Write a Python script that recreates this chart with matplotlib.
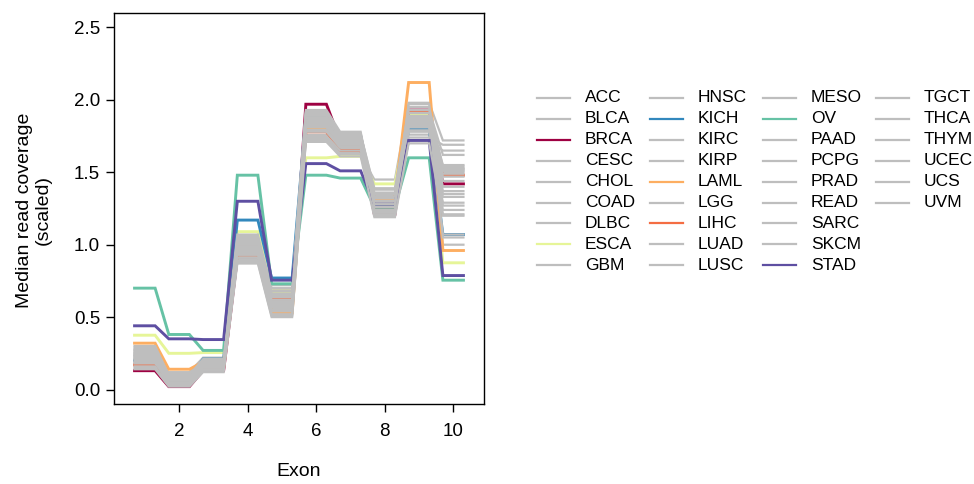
import matplotlib
matplotlib.use("Agg")
import matplotlib.pyplot as plt
from matplotlib.lines import Line2D
import numpy as np

plt.rcParams['font.family'] = ['Liberation Sans', 'DejaVu Sans']

exons = [1, 2, 3, 4, 5, 6, 7, 8, 9, 10]

cancers = ["ACC", "BLCA", "BRCA", "CESC", "CHOL", "COAD", "DLBC", "ESCA", "GBM",
           "HNSC", "KICH", "KIRC", "KIRP", "LAML", "LGG", "LIHC", "LUAD", "LUSC",
           "MESO", "OV", "PAAD", "PCPG", "PRAD", "READ", "SARC", "SKCM", "STAD",
           "TGCT", "THCA", "THYM", "UCEC", "UCS", "UVM"]

ACC  = [0.22, 0.05, 0.16, 0.98, 0.62, 1.84, 1.70, 1.28, 1.83, 1.37]
BLCA = [0.25, 0.08, 0.18, 1.02, 0.65, 1.86, 1.73, 1.31, 1.86, 1.50]
BRCA = [0.13, 0.02, 0.13, 0.91, 0.56, 1.97, 1.72, 1.21, 1.93, 1.42]
CESC = [0.27, 0.09, 0.19, 1.04, 0.67, 1.88, 1.74, 1.34, 1.88, 1.53]
CHOL = [0.18, 0.04, 0.15, 0.95, 0.58, 1.80, 1.69, 1.25, 1.80, 1.29]
COAD = [0.29, 0.11, 0.20, 1.06, 0.69, 1.90, 1.76, 1.38, 1.90, 1.55]
DLBC = [0.15, 0.12, 0.22, 0.88, 0.51, 1.72, 1.62, 1.45, 1.98, 1.72]
ESCA = [0.375, 0.25, 0.255, 1.09, 0.68, 1.60, 1.61, 1.42, 1.90, 0.875]
GBM  = [0.20, 0.03, 0.14, 0.92, 0.56, 1.76, 1.66, 1.22, 1.76, 1.21]
HNSC = [0.24, 0.06, 0.17, 1.00, 0.63, 1.85, 1.72, 1.30, 1.84, 1.27]
KICH = [0.20, 0.06, 0.21, 1.17, 0.77, 1.88, 1.75, 1.25, 1.80, 1.07]
KIRC = [0.21, 0.05, 0.16, 1.01, 0.70, 1.92, 1.77, 1.27, 1.82, 1.07]
KIRP = [0.23, 0.06, 0.18, 1.03, 0.72, 1.93, 1.78, 1.29, 1.85, 1.00]
LAML = [0.32, 0.14, 0.19, 1.00, 0.53, 1.81, 1.68, 1.32, 2.12, 0.96]
LGG  = [0.17, 0.03, 0.13, 0.90, 0.54, 1.74, 1.64, 1.20, 1.74, 1.69]
LIHC = [0.17, 0.07, 0.15, 0.93, 0.62, 1.78, 1.65, 1.24, 1.92, 1.48]
LUAD = [0.26, 0.07, 0.17, 0.99, 0.61, 1.83, 1.71, 1.33, 1.87, 1.44]
LUSC = [0.28, 0.08, 0.19, 1.05, 0.64, 1.87, 1.73, 1.36, 1.89, 1.51]
MESO = [0.19, 0.04, 0.15, 0.94, 0.57, 1.78, 1.67, 1.24, 1.79, 1.33]
OV   = [0.70, 0.38, 0.27, 1.48, 0.73, 1.48, 1.46, 1.26, 1.60, 0.755]
PAAD = [0.21, 0.05, 0.16, 0.96, 0.59, 1.81, 1.70, 1.26, 1.81, 1.47]
PCPG = [0.16, 0.03, 0.14, 0.89, 0.52, 1.73, 1.63, 1.21, 1.72, 1.65]
PRAD = [0.24, 0.07, 0.18, 1.00, 0.66, 1.89, 1.75, 1.32, 1.95, 1.52]
READ = [0.30, 0.10, 0.21, 1.07, 0.68, 1.91, 1.76, 1.39, 1.91, 1.54]
SARC = [0.20, 0.04, 0.15, 0.93, 0.60, 1.79, 1.68, 1.23, 1.78, 1.24]
SKCM = [0.22, 0.06, 0.17, 0.97, 0.62, 1.82, 1.71, 1.29, 1.83, 1.40]
STAD = [0.44, 0.35, 0.345, 1.30, 0.755, 1.56, 1.51, 1.28, 1.72, 0.787]
TGCT = [0.14, 0.02, 0.12, 0.87, 0.50, 1.71, 1.61, 1.19, 1.70, 1.20]
THCA = [0.25, 0.07, 0.18, 1.01, 0.64, 1.86, 1.74, 1.30, 1.85, 1.49]
THYM = [0.18, 0.08, 0.20, 0.91, 0.55, 1.75, 1.65, 1.35, 1.93, 1.62]
UCEC = [0.27, 0.09, 0.19, 1.03, 0.66, 1.88, 1.75, 1.35, 1.88, 1.52]
UCS  = [0.23, 0.06, 0.17, 0.98, 0.61, 1.83, 1.72, 1.28, 1.84, 1.35]
UVM  = [0.19, 0.05, 0.16, 0.95, 0.58, 1.79, 1.69, 1.26, 1.97, 1.05]

values = {"ACC": ACC, "BLCA": BLCA, "BRCA": BRCA, "CESC": CESC, "CHOL": CHOL,
          "COAD": COAD, "DLBC": DLBC, "ESCA": ESCA, "GBM": GBM, "HNSC": HNSC,
          "KICH": KICH, "KIRC": KIRC, "KIRP": KIRP, "LAML": LAML, "LGG": LGG,
          "LIHC": LIHC, "LUAD": LUAD, "LUSC": LUSC, "MESO": MESO, "OV": OV,
          "PAAD": PAAD, "PCPG": PCPG, "PRAD": PRAD, "READ": READ, "SARC": SARC,
          "SKCM": SKCM, "STAD": STAD, "TGCT": TGCT, "THCA": THCA, "THYM": THYM,
          "UCEC": UCEC, "UCS": UCS, "UVM": UVM}

highlight = {"BRCA": "#9E0142", "LIHC": "#F46D43", "LAML": "#FDAE61",
             "ESCA": "#E6F598", "OV": "#66C2A5", "KICH": "#3288BD",
             "STAD": "#5E4FA2"}
GRAY = "#BEBEBE"

xticks = [2, 4, 6, 8, 10]
yticks = [0.0, 0.5, 1.0, 1.5, 2.0, 2.5]

W, H = 974, 484
fig = plt.figure(figsize=(W / 100, H / 100), dpi=100)
ax = fig.add_axes([114 / W, (H - 404) / H, (484 - 114) / W, (404 - 13) / H])

half = 0.3
for name in cancers:
    v = values[name]
    xs, ys = [], []
    for e, val in zip(exons, v):
        xs += [e - half, e + half]
        ys += [val, val]
    col = highlight.get(name, GRAY)
    lw = 2.1 if name in highlight else 1.6
    ax.plot(xs, ys, color=col, lw=lw, solid_joinstyle='miter')

ax.set_xlim(0.1, 10.9)
ax.set_ylim(-0.1, 2.6)
ax.set_xticks(xticks)
ax.set_xticklabels([str(t) for t in xticks])
ax.set_yticks(yticks)
ax.set_yticklabels([f"{t:.1f}" for t in yticks])
ax.tick_params(axis='both', direction='out', length=6, width=1.0,
               labelsize=13.5, colors='black', pad=4)
ax.tick_params(axis='x', pad=8)
for s in ax.spines.values():
    s.set_linewidth(1.0)
    s.set_color('black')

fig.text(34 / W, 1 - 210 / H, "Median read coverage\n(scaled)", rotation=90,
         ha='center', va='center', fontsize=14, linespacing=1.15)
fig.text(299 / W, 1 - 472 / H, "Exon", ha='center', va='center', fontsize=14)

# legend, column-wise 9 rows
col_line_x = [537, 650, 763, 876]
line_len = 33
text_off = 48
row0 = 98
row_dy = 20.9
for i, name in enumerate(cancers):
    c, r = divmod(i, 9)
    y = 1 - (row0 + r * row_dy) / H
    x0 = col_line_x[c] / W
    col = highlight.get(name, GRAY)
    fig.add_artist(Line2D([x0, x0 + line_len / W], [y, y], color=col, lw=1.6,
                          transform=fig.transFigure))
    fig.text((col_line_x[c] + text_off) / W, y, name, ha='left', va='center',
             fontsize=12.5)

fig.savefig("out.png", dpi=100)
